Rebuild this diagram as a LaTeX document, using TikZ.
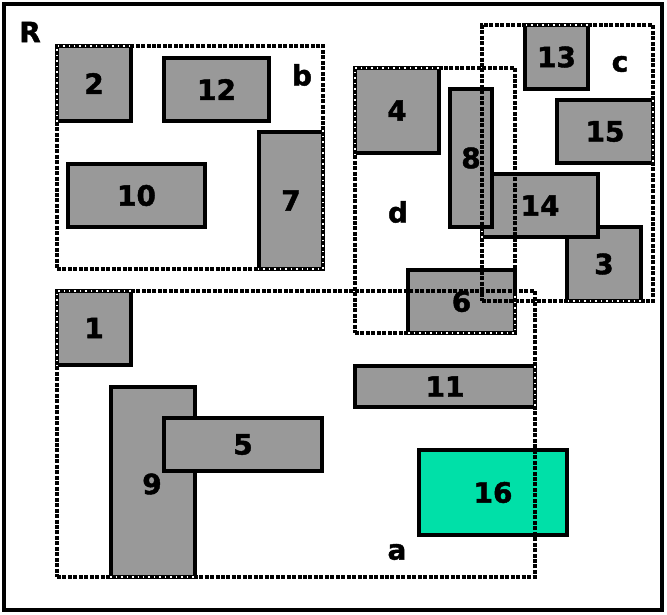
\documentclass[tikz,border=0pt]{standalone}
\usepackage{fontspec}
\setmainfont{DejaVu Sans}[BoldFeatures={FakeBold=1.5}]
\definecolor{boxgray}{RGB}{153,153,153}
\definecolor{boxteal}{RGB}{0,224,168}
\newcommand{\bx}[7]{\node[#7, minimum width={(#4-#2)*0.75pt}, minimum height={(#5-#3)*0.75pt}, anchor=north west] (#1) at (#2,#3) {#6};}
% white gaps of a group outline where it runs along a box border
\newcommand{\gapsw}[9]{\begin{scope}\clip (#6,#7) rectangle (#8,#9);\bx{#1}{#2}{#3}{#4}{#5}{}{grpw}\end{scope}}
\tikzset{
  gbox/.style={draw=black, fill=boxgray, line width=2.6pt, inner sep=0pt, outer sep=0pt, font=\bfseries\fontsize{21}{21}\selectfont},
  tbox/.style={gbox, fill=boxteal},
  grp/.style={draw=black, line width=2.8pt, dash pattern=on 3pt off 1.1pt, inner sep=0pt, outer sep=0pt},
  grpw/.style={draw=white, line width=2.2pt, dash pattern=on 1.1pt off 3pt, dash phase=1.1pt, inner sep=0pt, outer sep=0pt},
  lbl/.style={inner sep=0pt, font=\bfseries\fontsize{21}{21}\selectfont},
}
\begin{document}
\begin{tikzpicture}[x=0.75pt,y=-0.75pt]
\useasboundingbox (0,0) rectangle (667,614);
\node[draw=black, line width=2.8pt, inner sep=0pt, outer sep=0pt, minimum width={658*0.75pt}, minimum height={606*0.75pt}, anchor=north west] (R) at (4,4) {};
% boxes
\bx{n2}{57}{46}{131}{121}{2}{gbox}
\bx{n12}{164}{58}{269}{121}{12}{gbox}
\bx{n10}{68}{164}{205}{227}{10}{gbox}
\bx{n7}{259}{132}{323}{269}{7}{gbox}
\bx{n1}{57}{291}{131}{365}{1}{gbox}
\bx{n9}{111}{387}{195}{577}{}{gbox}
\bx{n5}{164}{418}{322}{471}{5}{gbox}
\node[lbl] (l9) at (152,484) {9};
\bx{n11}{355}{366}{535}{407}{11}{gbox}
\bx{n16}{419}{450}{567}{535}{16}{tbox}
\bx{n4}{355}{68}{439}{153}{4}{gbox}
\bx{n6}{408}{270}{515}{333}{6}{gbox}
\bx{n13}{525}{25}{588}{89}{13}{gbox}
\bx{n15}{557}{100}{653}{163}{15}{gbox}
\bx{n3}{567}{227}{641}{301}{3}{gbox}
\bx{n14}{482}{174}{598}{237}{14}{gbox}
\bx{n8}{450}{89}{492}{227}{8}{gbox}
% groups
\bx{gb}{57}{46}{323}{269}{}{grp}
\bx{ga}{57}{291}{535}{577}{}{grp}
\bx{gd}{355}{68}{515}{333}{}{grp}
\bx{gc}{482}{25}{653}{301}{}{grp}
% white gaps where group outlines run along box borders
\gapsw{wb2}{57}{46}{323}{269}{54}{43}{134}{124}
\gapsw{wb7}{57}{46}{323}{269}{256}{129}{326}{272}
\gapsw{wa1}{57}{291}{535}{577}{54}{288}{134}{368}
\gapsw{wa9}{57}{291}{535}{577}{108}{384}{198}{580}
\gapsw{wa11}{57}{291}{535}{577}{352}{363}{538}{410}
\gapsw{wd4}{355}{68}{515}{333}{352}{65}{442}{156}
\gapsw{wd6}{355}{68}{515}{333}{405}{294}{518}{336}
\gapsw{wc13}{482}{25}{653}{301}{522}{22}{591}{92}
\gapsw{wc15}{482}{25}{653}{301}{554}{97}{656}{166}
\gapsw{wc3}{482}{25}{653}{301}{564}{224}{644}{304}
\gapsw{wc14}{482}{25}{653}{301}{479}{228}{485}{240}
% labels
\node[lbl] (lR) at (30,32) {R};
\node[lbl] (lb) at (302,75) {b};
\node[lbl] (la) at (397,552) {a};
\node[lbl] (ld) at (398,212) {d};
\node[lbl] (lc) at (620,64) {c};
\end{tikzpicture}
\end{document}
